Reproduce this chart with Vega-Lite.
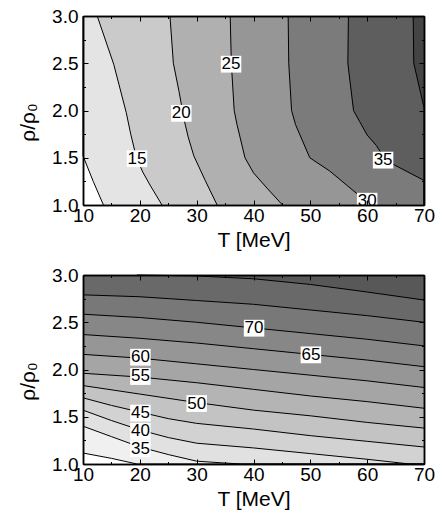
{
  "$schema": "https://vega.github.io/schema/vega-lite/v6.json",
  "padding": {"left": 17, "top": 7, "right": 5, "bottom": 5},
  "spacing": 16,
  "datasets": {
    "top_lines": [
      {"level": 10, "T": 13.6, "rho": 1.0}, {"level": 10, "T": 11.8, "rho": 1.25}, {"level": 10, "T": 10, "rho": 1.52}, {"level": 10, "T": 10, "rho": 3.0},
      {"level": 15, "T": 23.9, "rho": 1.0}, {"level": 15, "T": 21.9, "rho": 1.2}, {"level": 15, "T": 20.5, "rho": 1.35}, {"level": 15, "T": 19.4, "rho": 1.5}, {"level": 15, "T": 18.4, "rho": 1.75}, {"level": 15, "T": 17.6, "rho": 1.98}, {"level": 15, "T": 15.4, "rho": 2.49}, {"level": 15, "T": 12.5, "rho": 3.0},
      {"level": 20, "T": 33.6, "rho": 1.0}, {"level": 20, "T": 31.5, "rho": 1.26}, {"level": 20, "T": 29.5, "rho": 1.52}, {"level": 20, "T": 28.5, "rho": 1.72}, {"level": 20, "T": 27.8, "rho": 1.9}, {"level": 20, "T": 26.9, "rho": 2.2}, {"level": 20, "T": 25.9, "rho": 2.5}, {"level": 20, "T": 25.3, "rho": 3.0},
      {"level": 25, "T": 45.1, "rho": 1.0}, {"level": 25, "T": 42.5, "rho": 1.17}, {"level": 25, "T": 40.0, "rho": 1.34}, {"level": 25, "T": 38.5, "rho": 1.5}, {"level": 25, "T": 37.1, "rho": 1.85}, {"level": 25, "T": 36.6, "rho": 2.0}, {"level": 25, "T": 36.1, "rho": 2.5}, {"level": 25, "T": 35.9, "rho": 3.0},
      {"level": 30, "T": 60.8, "rho": 1.0}, {"level": 30, "T": 58.4, "rho": 1.11}, {"level": 30, "T": 53.4, "rho": 1.36}, {"level": 30, "T": 49.9, "rho": 1.5}, {"level": 30, "T": 47.4, "rho": 1.85}, {"level": 30, "T": 46.7, "rho": 2.0}, {"level": 30, "T": 46.2, "rho": 2.5}, {"level": 30, "T": 46.1, "rho": 3.0},
      {"level": 35, "T": 70, "rho": 1.0}, {"level": 35, "T": 70, "rho": 1.26}, {"level": 35, "T": 64.6, "rho": 1.43}, {"level": 35, "T": 63.0, "rho": 1.5}, {"level": 35, "T": 61.6, "rho": 1.63}, {"level": 35, "T": 60.0, "rho": 1.74}, {"level": 35, "T": 58.7, "rho": 1.88}, {"level": 35, "T": 57.6, "rho": 2.0}, {"level": 35, "T": 56.6, "rho": 2.5}, {"level": 35, "T": 56.7, "rho": 3.0},
      {"level": 40, "T": 70, "rho": 1.0}, {"level": 40, "T": 70, "rho": 2.03}, {"level": 40, "T": 68.2, "rho": 2.5}, {"level": 40, "T": 68.1, "rho": 3.0}
    ],
    "top_labels": [
      {"T": 19.5, "rho": 1.49, "label": "15"},
      {"T": 27.3, "rho": 1.97, "label": "20"},
      {"T": 36.05, "rho": 2.49, "label": "25"},
      {"T": 60.0, "rho": 1.04, "label": "30"},
      {"T": 62.8, "rho": 1.475, "label": "35"}
    ],
    "bot_lines": [
      {"level": 30, "T": 10, "rho": 1.116}, {"level": 30, "T": 15, "rho": 1.06}, {"level": 30, "T": 19.5, "rho": 1.0}, {"level": 30, "T": 70, "rho": 1.0},
      {"level": 35, "T": 10, "rho": 1.40}, {"level": 35, "T": 15, "rho": 1.29}, {"level": 35, "T": 20, "rho": 1.18}, {"level": 35, "T": 25, "rho": 1.10}, {"level": 35, "T": 30, "rho": 1.03}, {"level": 35, "T": 35, "rho": 1.01}, {"level": 35, "T": 38, "rho": 1.0}, {"level": 35, "T": 70, "rho": 1.0},
      {"level": 40, "T": 10, "rho": 1.57}, {"level": 40, "T": 15, "rho": 1.46}, {"level": 40, "T": 20, "rho": 1.36}, {"level": 40, "T": 25, "rho": 1.28}, {"level": 40, "T": 30, "rho": 1.22}, {"level": 40, "T": 40, "rho": 1.17}, {"level": 40, "T": 50, "rho": 1.11}, {"level": 40, "T": 60, "rho": 1.05}, {"level": 40, "T": 67.5, "rho": 1.0}, {"level": 40, "T": 70, "rho": 1.0},
      {"level": 45, "T": 10, "rho": 1.70}, {"level": 45, "T": 15, "rho": 1.62}, {"level": 45, "T": 20, "rho": 1.55}, {"level": 45, "T": 25, "rho": 1.48}, {"level": 45, "T": 30, "rho": 1.43}, {"level": 45, "T": 40, "rho": 1.37}, {"level": 45, "T": 50, "rho": 1.30}, {"level": 45, "T": 60, "rho": 1.24}, {"level": 45, "T": 70, "rho": 1.18},
      {"level": 50, "T": 10, "rho": 1.83}, {"level": 50, "T": 20, "rho": 1.74}, {"level": 50, "T": 30, "rho": 1.65}, {"level": 50, "T": 40, "rho": 1.57}, {"level": 50, "T": 50, "rho": 1.51}, {"level": 50, "T": 60, "rho": 1.44}, {"level": 50, "T": 70, "rho": 1.38},
      {"level": 55, "T": 10, "rho": 1.96}, {"level": 55, "T": 20, "rho": 1.92}, {"level": 55, "T": 30, "rho": 1.86}, {"level": 55, "T": 40, "rho": 1.79}, {"level": 55, "T": 50, "rho": 1.72}, {"level": 55, "T": 60, "rho": 1.66}, {"level": 55, "T": 70, "rho": 1.59},
      {"level": 60, "T": 10, "rho": 2.16}, {"level": 60, "T": 20, "rho": 2.12}, {"level": 60, "T": 30, "rho": 2.06}, {"level": 60, "T": 40, "rho": 2.0}, {"level": 60, "T": 50, "rho": 1.94}, {"level": 60, "T": 60, "rho": 1.88}, {"level": 60, "T": 70, "rho": 1.81},
      {"level": 65, "T": 10, "rho": 2.37}, {"level": 65, "T": 20, "rho": 2.33}, {"level": 65, "T": 30, "rho": 2.28}, {"level": 65, "T": 40, "rho": 2.22}, {"level": 65, "T": 50, "rho": 2.16}, {"level": 65, "T": 60, "rho": 2.10}, {"level": 65, "T": 70, "rho": 2.03},
      {"level": 70, "T": 10, "rho": 2.585}, {"level": 70, "T": 20, "rho": 2.55}, {"level": 70, "T": 30, "rho": 2.50}, {"level": 70, "T": 40, "rho": 2.44}, {"level": 70, "T": 50, "rho": 2.38}, {"level": 70, "T": 60, "rho": 2.32}, {"level": 70, "T": 70, "rho": 2.25},
      {"level": 75, "T": 10, "rho": 2.79}, {"level": 75, "T": 20, "rho": 2.77}, {"level": 75, "T": 30, "rho": 2.73}, {"level": 75, "T": 40, "rho": 2.69}, {"level": 75, "T": 50, "rho": 2.63}, {"level": 75, "T": 60, "rho": 2.57}, {"level": 75, "T": 70, "rho": 2.50},
      {"level": 80, "T": 19.5, "rho": 3.0}, {"level": 80, "T": 30, "rho": 2.99}, {"level": 80, "T": 40, "rho": 2.96}, {"level": 80, "T": 50, "rho": 2.90}, {"level": 80, "T": 60, "rho": 2.82}, {"level": 80, "T": 70, "rho": 2.735}
    ],
    "bot_labels": [
      {"T": 40.1, "rho": 2.437, "label": "70"},
      {"T": 50.1, "rho": 2.155, "label": "65"},
      {"T": 20.1, "rho": 2.13, "label": "60"},
      {"T": 20.1, "rho": 1.926, "label": "55"},
      {"T": 30.0, "rho": 1.64, "label": "50"},
      {"T": 20.1, "rho": 1.539, "label": "45"},
      {"T": 20.1, "rho": 1.345, "label": "40"},
      {"T": 20.1, "rho": 1.162, "label": "35"}
    ]
  },
  "resolve": {"scale": {"color": "independent"}},
  "vconcat": [
    {
      "width": 341,
      "height": 189,
      "resolve": {"axis": {"x": "independent", "y": "independent"}},
      "layer": [
        {
          "data": {"name": "top_lines"},
          "mark": {"type": "area", "orient": "horizontal", "strokeWidth": 0},
          "encoding": {
            "y": {"field": "rho", "type": "quantitative", "scale": {"domain": [1, 3], "nice": false, "zero": false},
                  "axis": {"orient": "left", "values": [1, 1.5, 2, 2.5, 3], "format": ".1f", "tickSize": -5, "labelPadding": 10, "title": "ρ/ρ₀", "titlePadding": 13, "titleY": 106, "domain": true, "zindex": 2}},
            "x": {"field": "T", "type": "quantitative", "stack": null, "scale": {"domain": [10, 70], "nice": false, "zero": false},
                  "axis": {"orient": "bottom", "values": [10, 20, 30, 40, 50, 60, 70], "tickSize": -5, "labelPadding": 6, "title": "T [MeV]", "titlePadding": 4, "domain": true, "zindex": 2}},
            "x2": {"datum": 70},
            "color": {"field": "level", "type": "ordinal", "legend": null,
                      "scale": {"domain": [10, 15, 20, 25, 30, 35, 40], "range": ["#e4e4e4", "#cacaca", "#b0b0b0", "#969696", "#7b7b7b", "#5e5e5e", "#444444"]}}
          }
        },
        {
          "data": {"name": "top_lines"},
          "mark": {"type": "line", "color": "black", "strokeWidth": 1},
          "encoding": {
            "y": {"field": "rho", "type": "quantitative",
                  "axis": {"orient": "right", "values": [1, 1.5, 2, 2.5, 3], "tickSize": -5, "labels": false, "title": null, "domain": true, "zindex": 2}},
            "x": {"field": "T", "type": "quantitative",
                  "axis": {"orient": "top", "values": [10, 20, 30, 40, 50, 60, 70], "tickSize": -5, "labels": false, "title": null, "domain": true, "zindex": 2}},
            "detail": {"field": "level", "type": "nominal"},
            "order": {"field": "rho", "type": "quantitative"}
          }
        },
        {
          "data": {"name": "top_labels"},
          "mark": {"type": "point", "shape": "M-1,-0.82H1V0.82H-1Z", "size": 420, "filled": true, "color": "white", "opacity": 1, "strokeWidth": 0, "clip": true},
          "encoding": {
            "y": {"field": "rho", "type": "quantitative",
                  "axis": {"orient": "left", "values": [1.25, 1.75, 2.25, 2.75], "tickSize": -2.5, "labels": false, "title": null, "domain": true, "zindex": 2}},
            "x": {"field": "T", "type": "quantitative",
                  "axis": {"orient": "bottom", "values": [15, 25, 35, 45, 55, 65], "tickSize": -2.5, "labels": false, "title": null, "domain": true, "zindex": 2}}
          }
        },
        {
          "data": {"name": "top_labels"},
          "mark": {"type": "text", "font": "Liberation Sans", "fontSize": 17, "color": "black", "align": "center", "baseline": "middle", "clip": true},
          "encoding": {
            "y": {"field": "rho", "type": "quantitative",
                  "axis": {"orient": "right", "values": [1.25, 1.75, 2.25, 2.75], "tickSize": -2.5, "labels": false, "title": null, "domain": true, "zindex": 2}},
            "x": {"field": "T", "type": "quantitative",
                  "axis": {"orient": "top", "values": [15, 25, 35, 45, 55, 65], "tickSize": -2.5, "labels": false, "title": null, "domain": true, "zindex": 2}},
            "text": {"field": "label", "type": "nominal"}
          }
        }
      ]
    },
    {
      "width": 341,
      "height": 189,
      "resolve": {"axis": {"x": "independent", "y": "independent"}},
      "layer": [
        {
          "data": {"name": "bot_lines"},
          "mark": {"type": "area", "orient": "vertical", "strokeWidth": 0},
          "encoding": {
            "x": {"field": "T", "type": "quantitative", "scale": {"domain": [10, 70], "nice": false, "zero": false},
                  "axis": {"orient": "bottom", "values": [10, 20, 30, 40, 50, 60, 70], "tickSize": -5, "labelPadding": 6, "title": "T [MeV]", "titlePadding": 4, "domain": true, "zindex": 2}},
            "y": {"field": "rho", "type": "quantitative", "stack": null, "scale": {"domain": [1, 3], "nice": false, "zero": false},
                  "axis": {"orient": "left", "values": [1, 1.5, 2, 2.5, 3], "format": ".1f", "tickSize": -5, "labelPadding": 10, "title": "ρ/ρ₀", "titlePadding": 13, "titleY": 106, "domain": true, "zindex": 2}},
            "y2": {"datum": 3},
            "color": {"field": "level", "type": "ordinal", "legend": null,
                      "scale": {"domain": [30, 35, 40, 45, 50, 55, 60, 65, 70, 75, 80], "range": ["#f0f0f0", "#e1e1e1", "#d2d2d2", "#c3c3c3", "#b4b4b4", "#a5a5a5", "#969696", "#878787", "#787878", "#696969", "#585858"]}}
          }
        },
        {
          "data": {"name": "bot_lines"},
          "mark": {"type": "line", "color": "black", "strokeWidth": 1},
          "encoding": {
            "x": {"field": "T", "type": "quantitative",
                  "axis": {"orient": "top", "values": [10, 20, 30, 40, 50, 60, 70], "tickSize": -5, "labels": false, "title": null, "domain": true, "zindex": 2}},
            "y": {"field": "rho", "type": "quantitative",
                  "axis": {"orient": "right", "values": [1, 1.5, 2, 2.5, 3], "tickSize": -5, "labels": false, "title": null, "domain": true, "zindex": 2}},
            "detail": {"field": "level", "type": "nominal"},
            "order": {"field": "T", "type": "quantitative"}
          }
        },
        {
          "data": {"name": "bot_labels"},
          "mark": {"type": "point", "shape": "M-1,-0.82H1V0.82H-1Z", "size": 420, "filled": true, "color": "white", "opacity": 1, "strokeWidth": 0, "clip": true},
          "encoding": {
            "x": {"field": "T", "type": "quantitative",
                  "axis": {"orient": "bottom", "values": [15, 25, 35, 45, 55, 65], "tickSize": -2.5, "labels": false, "title": null, "domain": true, "zindex": 2}},
            "y": {"field": "rho", "type": "quantitative",
                  "axis": {"orient": "left", "values": [1.25, 1.75, 2.25, 2.75], "tickSize": -2.5, "labels": false, "title": null, "domain": true, "zindex": 2}}
          }
        },
        {
          "data": {"name": "bot_labels"},
          "mark": {"type": "text", "font": "Liberation Sans", "fontSize": 17, "color": "black", "align": "center", "baseline": "middle", "clip": true},
          "encoding": {
            "x": {"field": "T", "type": "quantitative",
                  "axis": {"orient": "top", "values": [15, 25, 35, 45, 55, 65], "tickSize": -2.5, "labels": false, "title": null, "domain": true, "zindex": 2}},
            "y": {"field": "rho", "type": "quantitative",
                  "axis": {"orient": "right", "values": [1.25, 1.75, 2.25, 2.75], "tickSize": -2.5, "labels": false, "title": null, "domain": true, "zindex": 2}},
            "text": {"field": "label", "type": "nominal"}
          }
        }
      ]
    }
  ],
  "config": {
    "view": {"stroke": null},
    "axis": {
      "grid": false,
      "zindex": 2,
      "domainColor": "black",
      "domainWidth": 1.5,
      "tickColor": "black",
      "tickWidth": 1,
      "labelFont": "Liberation Sans",
      "labelFontSize": 19,
      "labelColor": "black",
      "titleFont": "Liberation Sans",
      "titleFontSize": 21,
      "titleFontWeight": "normal",
      "titleColor": "black",
      "labelOverlap": false,
      "labelFlush": false
    }
  }
}
